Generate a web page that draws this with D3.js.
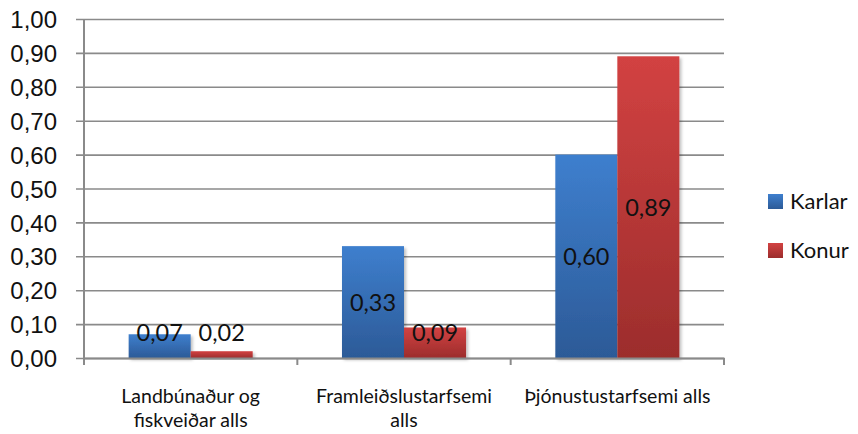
<!DOCTYPE html>
<html>
<head>
<meta charset="utf-8">
<script src="https://cdn.jsdelivr.net/npm/d3@7"></script>
<style>
  body { margin: 0; background: #fff; }
  svg { display: block; font-family: Lato, "Open Sans", sans-serif; }
</style>
</head>
<body>
<svg id="chart"></svg>
<script>
// data
const categories = ["Landbúnaður og fiskveiðar alls", "Framleiðslustarfsemi alls", "Þjónustustarfsemi alls"];
const categoryLines = [["Landbúnaður og", "fiskveiðar alls"], ["Framleiðslustarfsemi", "alls"], ["Þjónustustarfsemi alls"]];
const seriesNames = ["Karlar", "Konur"];
const karlar = [0.07, 0.33, 0.60];
const konur = [0.02, 0.09, 0.89];
const yTicks = [0, 0.1, 0.2, 0.3, 0.4, 0.5, 0.6, 0.7, 0.8, 0.9, 1.0];

function getConfig(){
    let width = 858;
    let height = 434;
    let margin = { top: 19, left: 84, right: 134, bottom: 76 };
    let container = d3.select("#chart")
        .attr("width", width)
        .attr("height", height);
    return { width, height, margin, container };
}

function getScales(config){
    let { width, height, margin } = config;
    let xScale = d3.scaleBand()
        .domain(categories)
        .range([margin.left, width - margin.right])
        .padding(0);
    let xInner = d3.scaleBand()
        .domain(seriesNames)
        .range([0, xScale.bandwidth()])
        .paddingInner(0)
        .paddingOuter(0.72);
    let yScale = d3.scaleLinear()
        .domain([0, 1])
        .range([height - margin.bottom, margin.top]);
    return { xScale, xInner, yScale };
}

function addGradients(config){
    let defs = config.container.append("defs");
    let grads = [
        { id: "gKarlar", top: "#3e7fce", bottom: "#2c5a97" },
        { id: "gKonur", top: "#d24242", bottom: "#9c2d2c" }
    ];
    grads.forEach(g => {
        let lg = defs.append("linearGradient")
            .attr("id", g.id)
            .attr("x1", 0).attr("y1", 0)
            .attr("x2", 0).attr("y2", 1);
        lg.append("stop").attr("offset", "0%").attr("stop-color", g.top);
        lg.append("stop").attr("offset", "100%").attr("stop-color", g.bottom);
    });
    defs.append("filter")
        .attr("id", "shadow")
        .attr("x", "-10%").attr("y", "-10%")
        .attr("width", "130%").attr("height", "130%")
        .append("feDropShadow")
        .attr("dx", 2).attr("dy", 2)
        .attr("stdDeviation", 1.5)
        .attr("flood-color", "#000")
        .attr("flood-opacity", 0.25);
}

function drawGrid(scales, config){
    let { xScale, yScale } = scales;
    let { container, margin, width } = config;
    let yAxis = d3.axisLeft(yScale)
        .tickValues(yTicks)
        .tickSize(-(width - margin.right - margin.left))
        .tickSizeOuter(0)
        .tickPadding(27)
        .tickFormat(d => d3.format(".2f")(d).replace(".", ","));
    let g = container.append("g")
        .attr("transform", `translate(${margin.left},0)`)
        .call(yAxis);
    g.select(".domain").remove();
    g.selectAll(".tick line")
        .attr("x1", -8)
        .attr("stroke", "#8a8a8a")
        .attr("stroke-width", 1.6);
    g.selectAll(".tick text")
        .attr("font-size", 24)
        .attr("fill", "#111")
        .attr("dy", "0.36em");
}

function drawBars(scales, config){
    let { xScale, xInner, yScale } = scales;
    let { container } = config;
    let rows = [];
    categories.forEach((c, i) => {
        rows.push({ cat: c, series: "Karlar", value: karlar[i] });
        rows.push({ cat: c, series: "Konur", value: konur[i] });
    });
    container.append("g")
        .selectAll("rect")
        .data(rows)
        .enter().append("rect")
        .attr("x", d => xScale(d.cat) + xInner(d.series))
        .attr("width", xInner.bandwidth())
        .attr("y", d => yScale(d.value))
        .attr("height", d => yScale(0) - yScale(d.value))
        .attr("fill", d => d.series == "Karlar" ? "url(#gKarlar)" : "url(#gKonur)")
        .attr("filter", "url(#shadow)");

    container.append("g")
        .selectAll("text")
        .data(rows)
        .enter().append("text")
        .attr("x", d => xScale(d.cat) + xInner(d.series) + xInner.bandwidth() / 2)
        .attr("y", d => Math.min(yScale(d.value / 2), yScale(0) - 25))
        .attr("dy", "0.36em")
        .attr("text-anchor", "middle")
        .attr("font-size", 23.5)
        .attr("fill", "#111")
        .text(d => d3.format(".2f")(d.value).replace(".", ","));
}

function drawAxes(scales, config){
    let { xScale, yScale } = scales;
    let { container, margin, height } = config;
    let y0 = yScale(0);
    // vertical axis line
    container.append("line")
        .attr("x1", margin.left).attr("x2", margin.left)
        .attr("y1", yScale(1)).attr("y2", y0)
        .attr("stroke", "#8a8a8a")
        .attr("stroke-width", 2);
    let xAxis = d3.axisBottom(xScale)
        .tickSize(0)
        .tickFormat("");
    let g = container.append("g")
        .attr("transform", `translate(0,${y0})`)
        .call(xAxis);
    g.select(".domain")
        .attr("stroke", "#8a8a8a")
        .attr("stroke-width", 2);
    // category boundary ticks
    let edges = categories.map(c => xScale(c)).concat([xScale.range()[1]]);
    g.selectAll(".edge")
        .data(edges)
        .enter().append("line")
        .attr("x1", d => d).attr("x2", d => d)
        .attr("y1", 0).attr("y2", 7)
        .attr("stroke", "#8a8a8a")
        .attr("stroke-width", 2);
    // wrapped category labels
    let labels = container.append("g");
    categories.forEach((c, i) => {
        let t = labels.append("text")
            .attr("x", xScale(c) + xScale.bandwidth() / 2)
            .attr("y", y0 + 45)
            .attr("text-anchor", "middle")
            .attr("font-size", 19.5)
            .attr("fill", "#111");
        categoryLines[i].forEach((line, j) => {
            t.append("tspan")
                .attr("x", xScale(c) + xScale.bandwidth() / 2)
                .attr("dy", j == 0 ? 0 : 24)
                .text(line);
        });
    });
}

function drawLegend(config){
    let { container } = config;
    let fills = ["url(#gKarlar)", "url(#gKonur)"];
    let lg = container.append("g")
        .attr("transform", "translate(768,194)");
    seriesNames.forEach((s, i) => {
        lg.append("rect")
            .attr("x", 0)
            .attr("y", i * 49)
            .attr("width", 15)
            .attr("height", 15)
            .attr("fill", fills[i]);
        lg.append("text")
            .attr("x", 22)
            .attr("y", i * 49 + 7.5)
            .attr("dy", "0.36em")
            .attr("font-size", 22)
            .attr("fill", "#111")
            .text(s);
    });
}

let config = getConfig();
let scales = getScales(config);
addGradients(config);
drawGrid(scales, config);
drawBars(scales, config);
drawAxes(scales, config);
drawLegend(config);
</script>
</body>
</html>
